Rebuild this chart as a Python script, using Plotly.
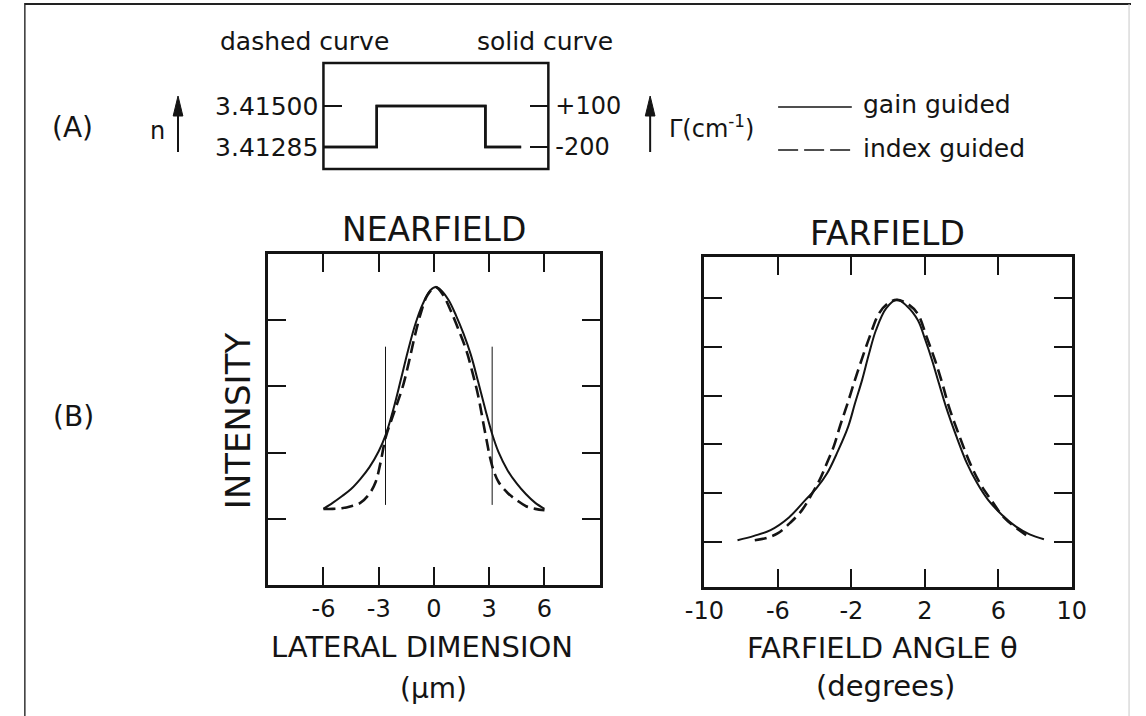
import plotly.graph_objects as go

W, H = 1146, 716

# ---------------- data ----------------
# Panel A: step profile (arbitrary lateral position); dashed curve = index n, solid curve = gain Gamma
step_x = [0.0, 2.37, 7.2, 8.79]
step_n = [3.41285, 3.41500, 3.41285, 3.41285]
step_gamma = [-200, 100, -200, -200]
n_tickvals = [3.41285, 3.41500]
n_ticktext = ["3.41285", "3.41500"]
gamma_tickvals = [-200, 100]
gamma_ticktext = ["-200", "+100"]

# Panel B: nearfield (lateral dimension, um)
near_solid_x = [-6.0, -5.5, -5.0, -4.5, -4.0, -3.5, -3.0, -2.63, -2.2, -1.8, -1.4, -1.0, -0.6, -0.2, 0.1,
                0.4, 0.8, 1.2, 1.6, 2.0, 2.4, 2.8, 3.16, 3.5, 4.0, 4.5, 5.0, 5.5, 6.0]
near_solid_y = [1.15, 1.24, 1.34, 1.45, 1.60, 1.78, 2.02, 2.26, 2.66, 3.10, 3.55, 3.95, 4.25, 4.45, 4.50,
                4.45, 4.30, 4.07, 3.80, 3.48, 3.07, 2.64, 2.28, 2.01, 1.73, 1.53, 1.37, 1.24, 1.15]
near_dash_x = [-6.0, -5.5, -5.0, -4.5, -4.0, -3.5, -3.16, -2.9, -2.63, -2.3, -2.0, -1.67, -1.35, -1.05, -0.7,
               -0.35, 0.1, 0.5, 0.9, 1.3, 1.75, 2.1, 2.4, 2.8, 3.16, 3.5, 4.0, 4.5, 5.0, 5.5, 6.0]
near_dash_y = [1.15, 1.15, 1.16, 1.19, 1.24, 1.38, 1.56, 1.85, 2.22, 2.50, 2.74, 3.02, 3.38, 3.75, 4.12,
               4.38, 4.50, 4.38, 4.15, 3.88, 3.55, 3.20, 2.86, 2.27, 1.80, 1.56, 1.39, 1.28, 1.19, 1.15, 1.13]
near_guide_x = [-2.63, 3.16]
near_guide_y = [1.21, 3.6]
near_tickvals = [-6, -3, 0, 3, 6]
near_ticktext = ["-6", "-3", "0", "3", "6"]
near_ytick = [1, 2, 3, 4]

# Panel B: farfield (angle, degrees)
far_solid_x = [-8.2, -7.3, -6.4, -5.4, -4.5, -3.9, -3.33, -2.75, -2.18, -1.8, -1.42, -1.05, -0.66, -0.1, 0.48,
               1.0, 1.62, 2.0, 2.39, 2.75, 3.15, 3.7, 4.29, 4.85, 5.44, 6.2, 6.96, 7.7, 8.48]
far_solid_y = [1.03, 1.12, 1.24, 1.50, 1.86, 2.10, 2.40, 2.85, 3.36, 3.85, 4.32, 4.85, 5.35, 5.80, 5.97,
               5.85, 5.55, 5.17, 4.73, 4.27, 3.77, 3.18, 2.61, 2.20, 1.86, 1.55, 1.31, 1.15, 1.05]
far_dash_x = [-7.26, -6.6, -6.02, -5.3, -4.69, -4.2, -3.73, -3.35, -2.97, -2.6, -2.21, -1.83, -1.45, -1.0, -0.5,
              0.0, 0.46, 1.0, 1.6, 2.1, 2.55, 2.95, 3.31, 3.9, 4.46, 5.0, 5.6, 6.3, 7.12, 7.79]
far_dash_y = [1.03, 1.08, 1.17, 1.40, 1.65, 1.95, 2.27, 2.60, 2.95, 3.40, 3.84, 4.30, 4.73, 5.22, 5.69,
              5.90, 5.97, 5.90, 5.69, 5.20, 4.73, 4.25, 3.77, 3.15, 2.61, 2.20, 1.86, 1.50, 1.24, 1.07]
far_tickvals = [-10, -6, -2, 2, 6, 10]
far_ticktext = ["-10", "-6", "-2", "2", "6", "10"]
far_ytick = [1, 2, 3, 4, 5, 6]

# ---------------- helpers ----------------
FONT = "DejaVu Sans"
INK = "#141414"


def px(x):
    return x / W


def py(y):
    return 1 - y / H


def dx(a, b):
    return [a / W, b / W]


def dy(top, bottom):
    return [1 - bottom / H, 1 - top / H]


fig = go.Figure()

solid = dict(color=INK, width=2)
dashed = dict(color=INK, width=2.6, dash="12px,6px")

# panel A (the same step drawn against both scales)
fig.add_trace(go.Scatter(x=step_x, y=step_n, mode="lines", line=dict(color=INK, width=2.5, shape="hv"),
                         xaxis="x3", yaxis="y3", hoverinfo="skip"))
fig.add_trace(go.Scatter(x=step_x, y=step_gamma, mode="lines", line=dict(color=INK, width=2.5, shape="hv"),
                         xaxis="x3", yaxis="y4", hoverinfo="skip"))
# nearfield
for gx in near_guide_x:
    fig.add_trace(go.Scatter(x=[gx, gx], y=near_guide_y, mode="lines", line=dict(color=INK, width=1),
                             xaxis="x", yaxis="y", hoverinfo="skip"))
fig.add_trace(go.Scatter(x=near_solid_x, y=near_solid_y, mode="lines", line=dict(shape="spline", **solid),
                         name="gain guided", xaxis="x", yaxis="y"))
fig.add_trace(go.Scatter(x=near_dash_x, y=near_dash_y, mode="lines", line=dict(shape="spline", **dashed),
                         name="index guided", xaxis="x", yaxis="y"))
# farfield
fig.add_trace(go.Scatter(x=far_solid_x, y=far_solid_y, mode="lines", line=dict(shape="spline", **solid),
                         name="gain guided", xaxis="x2", yaxis="y2"))
fig.add_trace(go.Scatter(x=far_dash_x, y=far_dash_y, mode="lines", line=dict(shape="spline", **dashed),
                         name="index guided", xaxis="x2", yaxis="y2"))

box_axis = dict(showline=True, linecolor=INK, linewidth=2.5, showgrid=False, zeroline=False,
                ticks="inside", ticklen=18, tickwidth=1.5, tickcolor=INK,
                tickfont=dict(family=FONT, size=24, color=INK))

small_axis = dict(showline=False, showgrid=False, zeroline=False, ticks="inside", tickwidth=1.5,
                  tickcolor=INK)

fig.update_layout(
    width=W, height=H, margin=dict(l=0, r=0, t=0, b=0),
    paper_bgcolor="white", plot_bgcolor="white", showlegend=False,
    font=dict(family=FONT, color=INK),
    xaxis=dict(domain=dx(256, 598), range=[-9, 9], anchor="y", tickmode="array",
               tickvals=near_tickvals, ticktext=near_ticktext, mirror="allticks",
               ticklabelstandoff=0, **box_axis),
    yaxis=dict(domain=dy(254, 585), range=[0, 5], anchor="x", tickmode="array",
               tickvals=near_ytick, showticklabels=False, mirror="allticks", **box_axis),
    xaxis2=dict(domain=dx(706, 1085), range=[-10, 10], anchor="y2", tickmode="array",
                tickvals=far_tickvals, ticktext=far_ticktext, mirror="allticks",
                ticklabelstandoff=0, **box_axis),
    yaxis2=dict(domain=dy(257, 587), range=[0.07, 6.85], anchor="x2", tickmode="array",
                tickvals=far_ytick, showticklabels=False, mirror="allticks", **box_axis),
    xaxis3=dict(domain=dx(313, 545), range=[0, 10], anchor="y3", showline=False,
                showticklabels=False, ticks="", showgrid=False, zeroline=False),
    yaxis3=dict(domain=dy(63, 169), range=[3.411696, 3.417255], anchor="x3", side="left",
                tickmode="array", tickvals=n_tickvals, ticktext=n_ticktext, ticklen=19,
                ticklabelstandoff=4, tickfont=dict(family=FONT, size=25, color=INK), **small_axis),
    yaxis4=dict(range=[-361.0, 414.6], overlaying="y3", anchor="x3", side="right",
                tickmode="array", tickvals=gamma_tickvals, ticktext=gamma_ticktext, ticklen=18,
                ticklabelstandoff=6, tickfont=dict(family=FONT, size=24, color=INK), **small_axis),
)

# box of panel A
fig.add_shape(type="rect", xref="x3 domain", yref="y3 domain", x0=0, x1=1, y0=0, y1=1,
              line=dict(color=INK, width=2.5), fillcolor="rgba(0,0,0,0)", layer="above")


def label(text, x, y, size, angle=0, xanchor="center"):
    fig.add_annotation(text=text, x=px(x), y=py(y), xref="paper", yref="paper", showarrow=False,
                       xanchor=xanchor, yanchor="middle", textangle=angle,
                       font=dict(family=FONT, size=size, color=INK))


label("dashed curve", 293, 42, 25)
label("solid curve", 542, 42, 25)
label("(A)", 54, 127, 28)
label("(B)", 55, 416, 28)
label("n", 142, 131, 24)
label("Γ(cm<sup>-1</sup>)", 667, 127, 24, xanchor="left")
label("gain guided", 867, 105, 25, xanchor="left")
label("index guided", 867, 148, 25, xanchor="left")
label("NEARFIELD", 427, 230, 33)
label("FARFIELD", 895, 233, 33)
label("INTENSITY", 225, 421, 34, angle=-90)
label("LATERAL DIMENSION", 415, 647, 29)
label("(μm)", 427, 688, 28)
label("FARFIELD ANGLE θ", 890, 648, 29)
label("(degrees)", 893, 686, 29)

# upward arrows (shaft + filled head)
for ax_x in (163, 650):
    fig.add_shape(type="line", xref="paper", yref="paper", x0=px(ax_x), x1=px(ax_x),
                  y0=py(152), y1=py(112), line=dict(color=INK, width=2))
    fig.add_shape(type="path", xref="paper", yref="paper",
                  path=(f"M {px(ax_x)} {py(96)} L {px(ax_x - 5)} {py(116)} "
                        f"L {px(ax_x + 5)} {py(116)} Z"),
                  line=dict(color=INK, width=1), fillcolor=INK)

# legend samples and frame
fig.add_shape(type="line", xref="paper", yref="paper", x0=px(782), x1=px(858), y0=py(107), y1=py(107),
              line=dict(color=INK, width=1.6))
fig.add_shape(type="line", xref="paper", yref="paper", x0=px(782), x1=px(857), y0=py(150), y1=py(150),
              line=dict(color=INK, width=1.6, dash="20px,6px"))
fig.add_shape(type="line", xref="paper", yref="paper", x0=px(5), x1=px(5), y0=0, y1=py(3),
              line=dict(color="#333", width=1.5))
fig.add_shape(type="line", xref="paper", yref="paper", x0=px(5), x1=px(1146), y0=py(4), y1=py(4),
              line=dict(color="#222", width=2))
fig.add_shape(type="line", xref="paper", yref="paper", x0=px(1144), x1=px(1144), y0=0, y1=py(4),
              line=dict(color="#c8c8c8", width=1))

fig.write_html("out.html")
